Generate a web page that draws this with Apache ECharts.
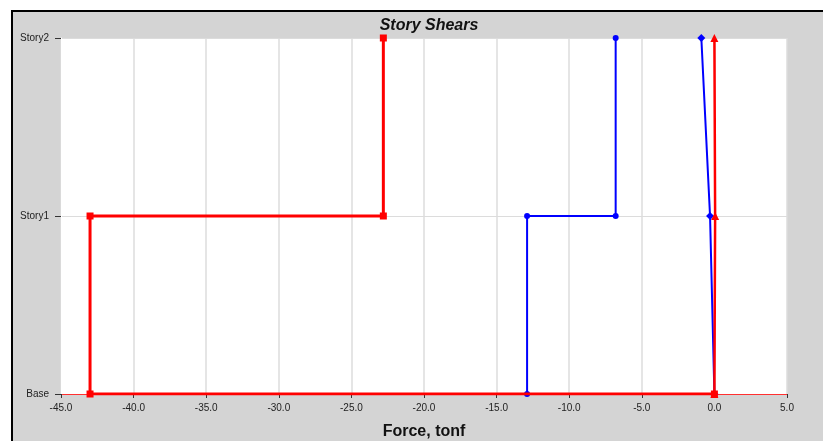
<!DOCTYPE html>
<html>
<head>
<meta charset="utf-8">
<script src="https://cdn.jsdelivr.net/npm/echarts@6/dist/echarts.min.js"></script>
<style>
  html, body { margin: 0; padding: 0; background: #ffffff; }
  #wrap { position: relative; width: 823px; height: 441px; overflow: hidden; }
  #frame {
    position: absolute; left: 11px; top: 10px; right: -4px; bottom: -4px;
    background: #d4d4d4; border-left: 2px solid #000; border-top: 2px solid #000;
  }
  #chart { position: absolute; left: 0; top: 0; width: 823px; height: 441px; }
</style>
</head>
<body>
<div id="wrap">
  <div id="frame"></div>
  <div id="chart"></div>
</div>
<script>
// Story levels (bottom to top) and x-axis range
const levels = ['Base', 'Story1', 'Story2'];
const xTicks = [-45, -40, -35, -30, -25, -20, -15, -10, -5, 0, 5];

// Red step curve: force at each point, level at each point
const redForce = [0.0, -43.0, -43.0, -22.8, -22.8];
const redLevel = ['Base', 'Base', 'Story1', 'Story1', 'Story2'];

// Blue step curve
const blueForce = [-12.9, -12.9, -6.8, -6.8];
const blueLevel = ['Base', 'Story1', 'Story1', 'Story2'];

// Blue slender curve near zero
const blue2Force = [0.0, -0.3, -0.9];
const blue2Level = ['Base', 'Story1', 'Story2'];

// Red curve along zero
const red2Force = [0.0, 0.05, 0.0];
const red2Level = ['Base', 'Story1', 'Story2'];

const pair = (xs, ys) => xs.map((x, i) => [x, ys[i]]);

const chart = echarts.init(document.getElementById('chart'));
const font = 'Liberation Sans, Arial, sans-serif';

chart.setOption({
  backgroundColor: 'transparent',
  animation: false,
  title: {
    text: 'Story Shears',
    left: 424, top: 13, textAlign: 'center',
    textStyle: { fontFamily: font, fontSize: 16, fontWeight: 'bold', fontStyle: 'italic', color: '#111' }
  },
  grid: {
    left: 61, right: 36, top: 38, bottom: 47,
    outerBoundsMode: 'none', containLabel: false,
    show: true, backgroundColor: '#ffffff', borderWidth: 0
  },
  xAxis: {
    type: 'value', min: -45, max: 5, interval: 5,
    name: 'Force, tonf', nameLocation: 'middle', nameGap: 30,
    nameTextStyle: { fontFamily: font, fontSize: 16, fontWeight: 'bold', color: '#111' },
    axisLine: { show: true, onZero: false, lineStyle: { color: '#ff3030', width: 1 } },
    axisTick: { show: true, length: 4, lineStyle: { color: '#333', width: 1 } },
    axisLabel: {
      margin: 9, fontFamily: font, fontSize: 10, color: '#222',
      formatter: v => xTicks.includes(v) ? v.toFixed(1) : ''
    },
    splitLine: { show: true, lineStyle: { color: '#dcdcdc', width: 1.5 } }
  },
  yAxis: {
    type: 'category', data: levels, boundaryGap: false,
    axisLine: { show: true, onZero: false, lineStyle: { color: '#ffffff', width: 1 } },
    axisTick: { show: true, length: 6, inside: false, alignWithLabel: true, lineStyle: { color: '#333', width: 1 } },
    axisLabel: { margin: 12, fontFamily: font, fontSize: 10, color: '#222' },
    splitLine: { show: true, lineStyle: { color: '#dcdcdc', width: 1 } }
  },
  series: [
    {
      type: 'line', name: 'blue-step', z: 3,
      data: pair(blueForce, blueLevel),
      lineStyle: { color: '#0000ff', width: 2 },
      itemStyle: { color: '#0000ff' },
      symbol: 'circle', symbolSize: 6, showSymbol: true
    },
    {
      type: 'line', name: 'blue-near-zero', z: 3,
      data: pair(blue2Force, blue2Level),
      lineStyle: { color: '#0000ff', width: 2 },
      itemStyle: { color: '#0000ff' },
      symbol: 'diamond', symbolSize: 8, showSymbol: true
    },
    {
      type: 'line', name: 'red-step', z: 4,
      data: pair(redForce, redLevel),
      lineStyle: { color: '#ff0000', width: 3 },
      itemStyle: { color: '#ff0000' },
      symbol: 'rect', symbolSize: 7, showSymbol: true
    },
    {
      type: 'line', name: 'red-zero', z: 5,
      data: pair(red2Force, red2Level),
      lineStyle: { color: '#ff0000', width: 2.5 },
      itemStyle: { color: '#ff0000' },
      symbol: 'triangle', symbolSize: 8, showSymbol: true
    }
  ]
});
</script>
</body>
</html>
